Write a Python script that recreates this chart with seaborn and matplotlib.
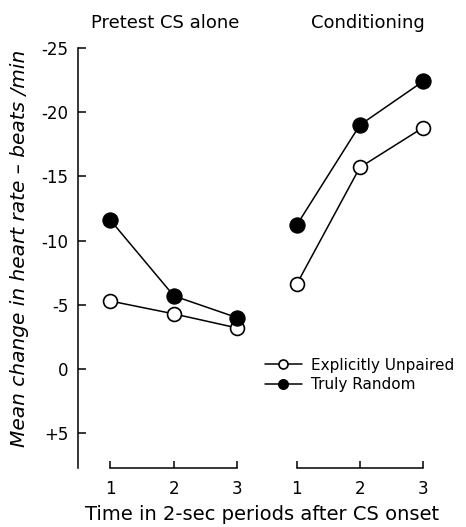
import matplotlib
matplotlib.use("Agg")
import matplotlib.pyplot as plt
import seaborn as sns
import pandas as pd

periods = [1, 2, 3]
pretest_unpaired = [-5.3, -4.3, -3.2]
pretest_random = [-11.6, -5.7, -4.0]
cond_unpaired = [-6.6, -15.7, -18.8]
cond_random = [-11.2, -19.0, -22.4]
y_ticks = [-25, -20, -15, -10, -5, 0, 5]
y_tick_labels = ["-25", "-20", "-15", "-10", "-5", "0", "+5"]
x_tick_labels = ["1", "2", "3"]
panel_titles = ["Pretest CS alone", "Conditioning"]
series_names = ["Explicitly Unpaired", "Truly Random"]

sns.set_style("ticks")
plt.rcParams["font.family"] = ["DejaVu Sans"]
for k in ["text.color", "axes.labelcolor", "xtick.color", "ytick.color", "axes.edgecolor"]:
    plt.rcParams[k] = "black"

W, H = 466, 527
fig = plt.figure(figsize=(W / 100, H / 100), dpi=100)

def px_axes(x0, x1, y0, y1):
    return fig.add_axes([x0 / W, 1 - y1 / H, (x1 - x0) / W, (y1 - y0) / H])

axL = px_axes(78, 250, 48, 468)
axR = px_axes(284, 442, 48, 468)

def draw(ax, unpaired, random, legend):
    df_u = pd.DataFrame({"period": periods, "change": unpaired})
    df_r = pd.DataFrame({"period": periods, "change": random})
    sns.lineplot(data=df_u, x="period", y="change", ax=ax, color="black",
                 marker="o", markersize=10, markerfacecolor="white",
                 markeredgecolor="black", markeredgewidth=1.2, linewidth=1.1,
                 label=series_names[0] if legend else None, legend=False)
    sns.lineplot(data=df_r, x="period", y="change", ax=ax, color="black",
                 marker="o", markersize=11, markerfacecolor="black",
                 markeredgecolor="black", linewidth=1.1,
                 label=series_names[1] if legend else None, legend=False)
    ax.set_ylim(7.7, -25)
    ax.set_xlabel("")
    ax.set_ylabel("")
    ax.set_xticks(periods)
    ax.set_xticklabels(x_tick_labels, fontsize=12)
    ax.spines["top"].set_visible(False)
    ax.spines["right"].set_visible(False)
    ax.spines["bottom"].set_bounds(1, 3)
    ax.spines["bottom"].set_linewidth(1.1)
    ax.tick_params(axis="x", direction="in", length=5, width=1.1, pad=9,
                   colors="black")
    ax.set_facecolor("white")

draw(axL, pretest_unpaired, pretest_random, False)
draw(axR, cond_unpaired, cond_random, True)

axL.set_xlim(0.49, 3.2)
axR.set_xlim(0.8, 3.3)

axL.set_yticks(y_ticks)
axL.set_yticklabels(y_tick_labels, fontsize=12)
axL.spines["left"].set_linewidth(1.1)
axL.tick_params(axis="y", direction="in", length=6, width=1.1, pad=7,
                colors="black")

axR.spines["left"].set_visible(False)
axR.set_yticks([])

handles, labels = axR.get_legend_handles_labels()
leg = axR.legend(handles, labels, loc="center left",
                 bbox_to_anchor=(259 / W, 1 - 375 / H),
                 bbox_transform=fig.transFigure, frameon=False,
                 fontsize=11, markerscale=0.65, handlelength=2.4,
                 handletextpad=0.6, labelspacing=0.3, borderaxespad=0)

fig.text(165 / W, 1 - 23 / H, panel_titles[0], ha="center", va="center", fontsize=13)
fig.text(368 / W, 1 - 23 / H, panel_titles[1], ha="center", va="center", fontsize=13)
fig.text(20 / W, 1 - 248 / H, "Mean change in heart rate \u2013 beats /min",
         rotation=90, ha="center", va="center", fontsize=14.5, style="italic")
fig.text(262 / W, 1 - 515 / H, "Time in 2-sec periods after CS onset",
         ha="center", va="center", fontsize=14)

fig.savefig("out.png", dpi=100, facecolor="white")
